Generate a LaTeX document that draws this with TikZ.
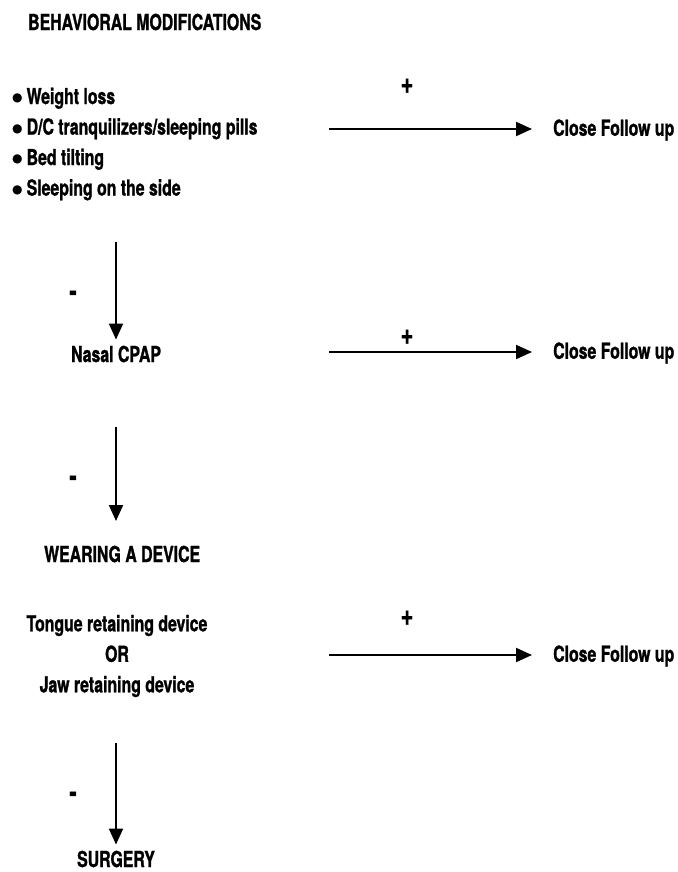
\documentclass[tikz,border=0pt]{standalone}
\usepackage{fontspec}
\setmainfont{TeX Gyre Heros}[FakeStretch=0.72,BoldFeatures={FakeBold=1.2}]
\newfontfamily\symfont{DejaVu Sans}
\usetikzlibrary{arrows.meta,positioning}
\newcommand{\dotitem}{\raisebox{2.5pt}{\symfont\fontsize{12}{12}\selectfont ●}\hspace{4pt}}
\begin{document}
\begin{tikzpicture}
		[x=1pt,y=-1pt,
		txt/.style ={font=\bfseries\fontsize{22}{30.5}\selectfont, inner sep=0pt},
		lefttxt/.style ={txt, anchor=west, align=left},
		midtxt/.style ={txt, align=center},
		sign/.style ={txt, font=\bfseries\fontsize{30}{30}\selectfont},
		line/.style ={draw, line width=2pt, -{Triangle[length=16pt,width=14pt]}},
		]
		\useasboundingbox (0,0) rectangle (677,872);

		\draw (28,22) node[lefttxt] (B) {BEHAVIORAL MODIFICATIONS};
		\draw (12,144) node[lefttxt] (L) {\dotitem Weight loss\\
			\dotitem D/C tranquilizers/sleeping pills\\
			\dotitem Bed tilting\\
			\dotitem Sleeping on the side};
		\draw (116,354) node[midtxt] (N) {Nasal CPAP};
		\draw (44,554) node[lefttxt] (W) {WEARING A DEVICE};
		\draw (117,656) node[midtxt] (T) {Tongue retaining device\\ OR\\ Jaw retaining device};
		\draw (116,859) node[midtxt] (S) {SURGERY};

		\draw (553,130) node[lefttxt] (F1) {Close Follow up};
		\draw (553,353) node[lefttxt] (F2) {Close Follow up};
		\draw (553,656) node[lefttxt] (F3) {Close Follow up};

		% plus / minus signs
		\draw (407,86) node[sign] (P1) {+};
		\draw (407,337) node[sign] (P2) {+};
		\draw (407,618) node[sign] (P3) {+};
		\draw (73,296) node[sign] (M1) {-};
		\draw (73,481) node[sign] (M2) {-};
		\draw (73,797) node[sign] (M3) {-};

		% free ends of the connectors
		\coordinate (h1) at (329,129);
		\coordinate (h2) at (329,352);
		\coordinate (h3) at (329,655);
		\coordinate (v1) at (116,242);
		\coordinate (v2) at (116,427);
		\coordinate (v3) at (116,743);
		\coordinate (e2) at (116,521);

		\path
		(h1) edge[line, shorten >=21pt] (h1 -| F1.west)
		(h2) edge[line, shorten >=21pt] (h2 -| F2.west)
		(h3) edge[line, shorten >=21pt] (h3 -| F3.west)
		(v1) edge[line, shorten >=6pt] (N.north)
		(v2) edge[line] (e2)
		(v3) edge[line, shorten >=6pt] (S.north);
	\end{tikzpicture}
\end{document}
